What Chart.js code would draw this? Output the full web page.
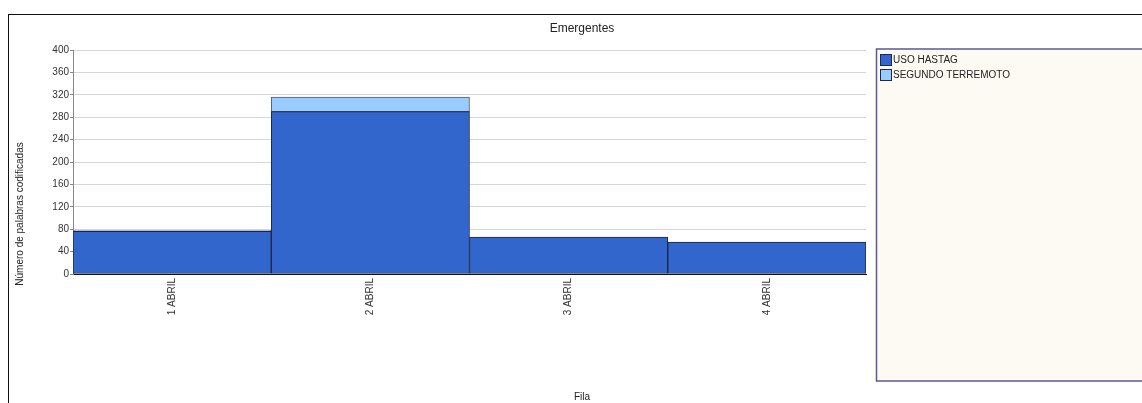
<!DOCTYPE html>
<html>
<head>
<meta charset="utf-8">
<title>Emergentes</title>
<script src="https://cdn.jsdelivr.net/npm/chart.js@4.4.1/dist/chart.umd.min.js"></script>
<style>
  html, body { margin: 0; padding: 0; background: #ffffff; }
  #wrap { width: 1142px; height: 403px; position: relative; }
</style>
</head>
<body>
<div id="wrap"><canvas id="chart" width="1142" height="403"></canvas></div>
<script>
// Categories (days) and stacked series values
const categories = ['1 ABRIL', '2 ABRIL', '3 ABRIL', '4 ABRIL'];
const usoHastag = [76, 290, 66, 57];
const segundoTerremoto = [2, 26, 0, 0];
const seriesNames = ['USO HASTAG', 'SEGUNDO TERREMOTO'];
const seriesColors = ['#3366CC', '#99CCFF'];
const yTicks = [0, 40, 80, 120, 160, 200, 240, 280, 320, 360, 400];

const chartTitle = 'Emergentes';
const yTitle = 'Número de palabras codificadas';
const xTitle = 'Fila';

const FONT = '"Liberation Sans", Arial, sans-serif';

// Frame, legend panel and titles drawn around the plot
const decorations = {
  id: 'decorations',
  beforeDraw(chart) {
    const ctx = chart.ctx;
    ctx.save();
    // outer frame
    ctx.strokeStyle = '#111111';
    ctx.lineWidth = 1;
    ctx.strokeRect(8.5, 14.5, 1160, 420);
    // legend panel
    ctx.fillStyle = '#FDFAF3';
    ctx.fillRect(876, 49, 300, 332);
    ctx.strokeStyle = '#5a5a90';
    ctx.lineWidth = 1.5;
    ctx.strokeRect(876.5, 49, 300, 332);
    ctx.restore();
  },
  afterDraw(chart) {
    const ctx = chart.ctx;
    ctx.save();
    ctx.fillStyle = '#222222';
    ctx.textAlign = 'center';
    ctx.textBaseline = 'middle';
    ctx.font = '12px ' + FONT;
    ctx.fillText(chartTitle, 582, 29);
    ctx.font = '10px ' + FONT;
    ctx.fillText(xTitle, 582, 397);
    ctx.translate(20, 214);
    ctx.rotate(-Math.PI / 2);
    ctx.fillText(yTitle, 0, 0);
    ctx.restore();

    // legend entries from the datasets
    ctx.save();
    ctx.font = '10px ' + FONT;
    ctx.textAlign = 'left';
    ctx.textBaseline = 'middle';
    chart.data.datasets.forEach((ds, i) => {
      const y = 54 + i * 15;
      ctx.fillStyle = ds.backgroundColor;
      ctx.fillRect(880, y, 11, 11);
      ctx.strokeStyle = '#1f2650';
      ctx.lineWidth = 1;
      ctx.strokeRect(880.5, y + 0.5, 11, 11);
      ctx.fillStyle = '#222222';
      ctx.fillText(ds.label, 893, y + 6);
    });
    ctx.restore();
  }
};

new Chart(document.getElementById('chart'), {
  type: 'bar',
  data: {
    labels: categories,
    datasets: [
      {
        label: seriesNames[0],
        data: usoHastag,
        backgroundColor: seriesColors[0],
        borderColor: '#1c2448',
        borderWidth: 1,
        borderSkipped: false
      },
      {
        label: seriesNames[1],
        data: segundoTerremoto,
        backgroundColor: seriesColors[1],
        borderColor: '#555b70',
        borderWidth: 1,
        borderSkipped: false
      }
    ]
  },
  options: {
    responsive: false,
    animation: false,
    layout: { padding: { top: 50, left: 0, right: 276, bottom: 0 } },
    datasets: { bar: { categoryPercentage: 1, barPercentage: 1 } },
    plugins: {
      legend: { display: false },
      title: { display: false },
      tooltip: { enabled: false }
    },
    scales: {
      x: {
        stacked: true,
        grid: { display: false, drawTicks: false },
        border: { display: true, color: '#111111' },
        ticks: {
          minRotation: 90,
          maxRotation: 90,
          autoSkip: false,
          padding: 4,
          color: '#333333',
          font: { family: FONT, size: 10 }
        },
        afterFit(scale) { scale.height = 129; }
      },
      y: {
        stacked: true,
        min: 0,
        max: 400,
        afterBuildTicks(scale) { scale.ticks = yTicks.map(v => ({ value: v })); },
        grid: { color: '#d6d6d6', tickColor: '#888888', tickLength: 3, lineWidth: 1 },
        border: { display: true, color: '#888888' },
        ticks: {
          padding: 1,
          color: '#333333',
          font: { family: FONT, size: 10 }
        },
        afterFit(scale) { scale.width = 73; }
      }
    }
  },
  plugins: [decorations]
});
</script>
</body>
</html>
